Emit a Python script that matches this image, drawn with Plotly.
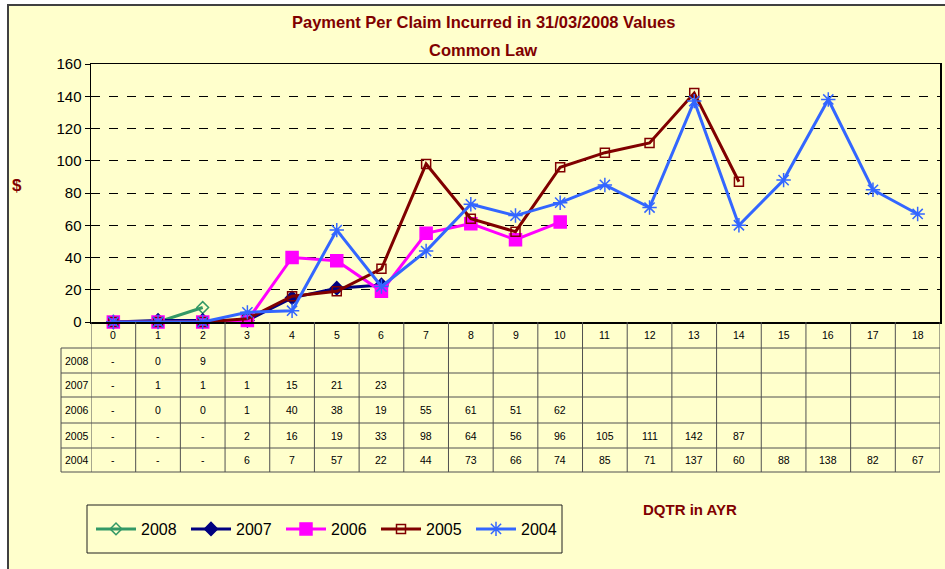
import plotly.graph_objects as go

# ---------------- data ----------------
categories = list(range(19))
series_names = ["2008", "2007", "2006", "2005", "2004"]
s2008 = ["-", 0, 9]
s2007 = ["-", 1, 1, 1, 15, 21, 23]
s2006 = ["-", 0, 0, 1, 40, 38, 19, 55, 61, 51, 62]
s2005 = ["-", "-", "-", 2, 16, 19, 33, 98, 64, 56, 96, 105, 111, 142, 87]
s2004 = ["-", "-", "-", 6, 7, 57, 22, 44, 73, 66, 74, 85, 71, 137, 60, 88, 138, 82, 67]
y_ticks = [0, 20, 40, 60, 80, 100, 120, 140, 160]

series_values = [s2008, s2007, s2006, s2005, s2004]
colors = ["#339966", "#000080", "#FF00FF", "#800000", "#3366FF"]
symbols = ["diamond-open", "diamond", "square", "square-open", "asterisk-open"]
msizes = [9, 10, 12, 9, 12]

# ---------------- geometry helpers ----------------
W, H = 945, 569
L, R, T, B = 91, 940, 64, 322
pw, ph = R - L, B - T


def px(p):
    return (p - L) / pw


def py(p):
    return (B - p) / ph


BG = "#FFFFCC"
DARKRED = "#800000"
NARROW = "Liberation Sans Narrow, Arial Narrow, Liberation Sans, Arial"
SANS = "Liberation Sans, Arial"

fig = go.Figure()

for name, vals, c, sym, ms in zip(series_names, series_values, colors, symbols, msizes):
    yv = [0 if v == "-" else v for v in vals]
    fig.add_trace(go.Scatter(
        x=categories[:len(yv)], y=yv, name=name, mode="lines+markers",
        line=dict(color=c, width=3),
        marker=dict(symbol=sym, size=ms, color=c, line=dict(color=c, width=1.5)),
        cliponaxis=False,
    ))

shapes = []
annotations = []

# outer chart area (yellow with dark border)
shapes.append(dict(type="rect", xref="paper", yref="paper",
                   x0=px(8), x1=px(990), y0=py(620), y1=py(5),
                   fillcolor=BG,
                   line=dict(color="#404040", width=2), layer="below"))

# data table
row_edges = [B, 348, 373, 397, 423, 448, 472]
tline = dict(color="#505050", width=1)
for yy in row_edges[1:]:
    shapes.append(dict(type="line", xref="paper", yref="paper",
                       x0=px(61), x1=px(R), y0=py(yy), y1=py(yy), line=tline))
shapes.append(dict(type="line", xref="paper", yref="paper",
                   x0=px(61), x1=px(61), y0=py(348), y1=py(472), line=tline))
for k in range(len(categories) + 1):
    shapes.append(dict(type="line", xref="x", yref="paper",
                       x0=k - 0.5, x1=k - 0.5, y0=py(B), y1=py(472), line=tline))

table_rows = [s2008, s2007, s2006, s2005, s2004]
for i, (name, vals) in enumerate(zip(series_names, table_rows)):
    yc = py((row_edges[i + 1] + row_edges[i + 2]) / 2)
    annotations.append(dict(x=px(63), y=yc, xref="paper", yref="paper", text=name,
                            showarrow=False, xanchor="left", yanchor="middle",
                            font=dict(size=10.5, color="black", family=SANS)))
    for xi, v in enumerate(vals):
        annotations.append(dict(x=xi, y=yc, xref="x", yref="paper", text=str(v),
                                showarrow=False, xanchor="center", yanchor="middle",
                                font=dict(size=10.5, color="black", family=SANS)))

for c in categories:
    annotations.append(dict(x=c, y=py(335), xref="x", yref="paper", text=str(c),
                            showarrow=False, xanchor="center", yanchor="middle",
                            font=dict(size=10.5, color="black", family=SANS)))

# titles and axis labels
annotations.append(dict(x=px(483), y=py(22), xref="paper", yref="paper",
                        text="<b>Payment Per Claim Incurred in 31/03/2008 Values</b>",
                        showarrow=False, xanchor="center", yanchor="middle",
                        font=dict(size=16.5, color=DARKRED, family=NARROW)))
annotations.append(dict(x=px(483), y=py(50), xref="paper", yref="paper",
                        text="<b>Common Law</b>",
                        showarrow=False, xanchor="center", yanchor="middle",
                        font=dict(size=16.5, color=DARKRED, family=NARROW)))
annotations.append(dict(x=px(17), y=py(185), xref="paper", yref="paper",
                        text="<b>$</b>", showarrow=False, xanchor="center", yanchor="middle",
                        font=dict(size=17, color=DARKRED, family=NARROW)))
annotations.append(dict(x=px(690), y=py(509), xref="paper", yref="paper",
                        text="<b>DQTR in AYR</b>", showarrow=False,
                        xanchor="center", yanchor="middle",
                        font=dict(size=15, color=DARKRED, family=NARROW)))

# legend box
shapes.append(dict(type="rect", xref="paper", yref="paper",
                   x0=px(87), x1=px(562), y0=py(553), y1=py(505),
                   line=dict(color="#202020", width=1)))

fig.update_layout(
    width=W, height=H,
    margin=dict(l=L, r=W - R, t=T, b=H - B, autoexpand=False),
    paper_bgcolor="white", plot_bgcolor=BG,
    showlegend=True,
    hovermode=False,
    legend=dict(orientation="h", x=px(91), y=py(529), xanchor="left", yanchor="middle",
                bgcolor="rgba(0,0,0,0)", borderwidth=0,
                font=dict(size=16, color="black", family=SANS),
                entrywidth=40, entrywidthmode="pixels", itemwidth=40, traceorder="normal"),
    shapes=shapes,
    annotations=annotations,
    xaxis=dict(range=[-0.5, 18.5], showgrid=False, zeroline=False,
               showline=True, linecolor="black", linewidth=1.5, mirror=True,
               showticklabels=False, ticks="", fixedrange=True),
    yaxis=dict(range=[0, 160], tickvals=y_ticks, showgrid=True,
               gridcolor="black", griddash="dash", gridwidth=1, zeroline=False,
               showline=True, linecolor="black", linewidth=1.5, mirror=True,
               ticks="outside", ticklen=5, tickcolor="black", fixedrange=True,
               tickfont=dict(size=15, color="black", family=SANS)),
)

fig.write_html("out.html",
               config={"displayModeBar": False, "staticPlot": True},
               post_script="document.body.style.margin='0';document.body.style.overflow='hidden';")
